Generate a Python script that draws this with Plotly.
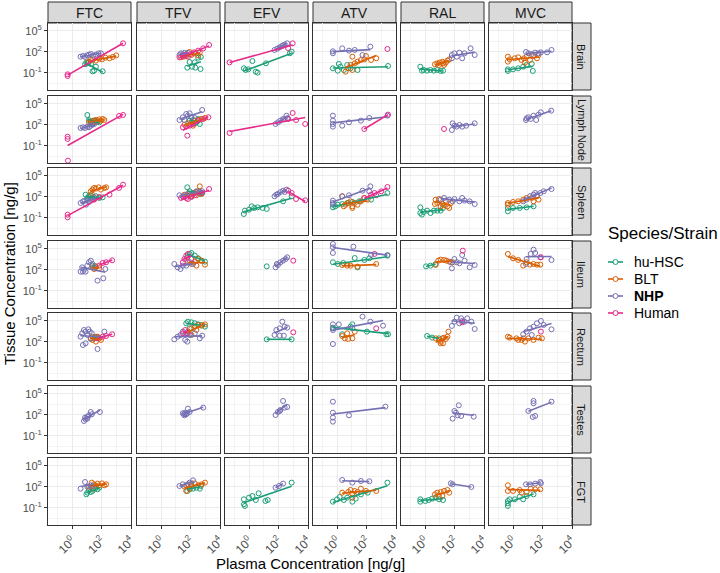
import numpy as np
import plotly.graph_objects as go

DRUGS = ["FTC", "TFV", "EFV", "ATV", "RAL", "MVC"]
TISSUES = ["Brain", "Lymph Node", "Spleen", "Ileum", "Rectum", "Testes", "FGT"]
GROUPS = ["hu-HSC", "BLT", "NHP", "Human"]
COLORS = {"hu-HSC": "#1B9E77", "BLT": "#D95F02", "NHP": "#7570B3", "Human": "#E7298A"}
X_TICKS = [1, 100, 10000]
X_TICK_TEXT = ["10<sup>0</sup>", "10<sup>2</sup>", "10<sup>4</sup>"]
Y_TICKS = [0.1, 100, 100000]
Y_TICK_TEXT = ["10<sup>-1</sup>", "10<sup>2</sup>", "10<sup>5</sup>"]

# values are log10(plasma ng/g), log10(tissue ng/g)
BRAIN = {
    "FTC": {
        "hu-HSC": ([0.88, 0.97, 1.06, 1.15, 1.29, 1.39, 1.50, 2.08, 1.62], [0.24, 0.48, 0.38, 0.57, 0.29, -0.76, -0.67, -0.76, -0.10]),
        "BLT": ([1.11, 1.27, 1.43, 1.62, 1.85, 2.03, 2.26, 2.54, 2.77, 3.0], [0.57, 0.86, 0.95, 0.76, 1.05, 0.95, 1.19, 1.10, 1.29, 1.52]),
        "NHP": ([0.58, 0.74, 0.88, 1.02, 1.15, 1.29, 1.43, 1.62, 1.80, 1.96], [1.33, 1.43, 1.29, 1.52, 1.62, 1.71, 1.48, 1.62, 1.81, 1.81]),
        "Human": ([-0.30, -0.30, 3.46], [-1.19, -1.43, 3.24]),
    },
    "TFV": {
        "hu-HSC": ([1.78, 2.10, 2.33, 2.68, 2.29, 2.52, 2.70, 1.94], [-0.24, -0.10, -0.24, -0.43, 0.52, 1.19, 1.29, 0.57]),
        "BLT": ([1.36, 1.55, 1.71, 1.94, 2.06, 2.29, 2.52, 2.63], [1.24, 1.33, 1.43, 2.0, 1.57, 1.81, 1.52, 1.90]),
        "NHP": ([1.25, 1.36, 1.48, 1.59, 1.71, 1.82], [1.57, 1.81, 1.67, 1.86, 1.62, 1.90]),
        "Human": ([1.25, 1.48, 1.64, 1.82, 2.01, 2.24, 2.52, 2.86, 3.26], [1.24, 1.43, 1.57, 1.33, 1.71, 1.95, 2.19, 2.52, 3.0]),
    },
    "EFV": {
        "hu-HSC": ([-0.35, -0.23, -0.05, 0.23, 0.46, 0.58, 1.15, 2.77, 2.89], [-0.33, -0.57, -0.48, 0.71, -0.81, -0.95, 0.38, 1.81, 2.05]),
        "NHP": ([1.73, 1.92, 2.08, 2.24, 2.42, 2.59, 2.31], [2.29, 2.48, 2.67, 2.86, 3.05, 3.24, 2.95]),
        "Human": ([-1.32, 2.65, 2.96], [0.52, 2.55, 3.24]),
    },
    "ATV": {
        "hu-HSC": ([-0.28, 0.05, 0.23, 0.46, 0.69, 0.92, 1.39, 3.46, 0.12], [-0.33, -0.67, -0.10, -0.57, 0.14, -0.33, -0.57, 0.0, 0.29]),
        "BLT": ([0.58, 0.76, 0.92, 1.04, 1.20, 1.39, 1.62, 1.85, 1.96, 2.31, 2.66, 1.04], [-0.81, -0.33, 0.14, 1.33, 0.38, 0.62, 0.86, 0.95, 1.43, 0.86, 1.10, -0.57]),
        "NHP": ([-0.28, -0.28, 0.35, 0.81, 1.73, 2.26, 1.20], [2.10, 1.81, 2.52, 2.19, 1.57, 2.76, 2.29]),
        "Human": ([3.42], [2.43]),
    },
    "RAL": {
        "hu-HSC": ([-0.32, -0.09, 0.14, 0.37, 0.60, 0.83, 1.06, 1.22, -0.21], [-0.10, -0.57, -0.67, -0.57, -0.67, -0.57, -0.71, -0.67, -0.67]),
        "BLT": ([0.67, 0.83, 0.99, 1.18, 1.29, 1.41, 1.52, 1.64, 1.22, 0.95], [0.24, 0.38, 0.48, 0.62, 0.14, 0.48, 0.76, 0.95, 0.38, 0.14]),
        "NHP": ([1.82, 1.99, 2.15, 2.33, 2.52, 2.68, 3.09, 3.37, 1.82], [1.57, 1.81, 1.33, 1.90, 1.10, 1.81, 2.52, 1.57, 1.10]),
    },
    "MVC": {
        "hu-HSC": ([-0.35, -0.35, 0.0, 0.35, 0.69, 0.92, 1.27, 1.34], [-0.71, -0.48, -0.48, -0.33, -0.10, 0.14, 0.29, -0.71]),
        "BLT": ([-0.35, -0.35, -0.23, 0.12, 0.35, 0.58, 0.74, 0.92, 1.15, 1.39, 1.62, 1.73, 0.81], [1.33, 0.62, 0.95, 1.10, 1.24, 0.86, 1.10, 1.33, 0.86, 1.43, 1.10, 1.57, 0.48]),
        "NHP": ([0.88, 1.04, 1.27, 1.50, 1.73, 1.89, 2.61, 2.31], [2.0, 1.81, 1.71, 1.90, 1.81, 1.95, 2.29, 1.95]),
    },
}

LYMPH_NODE = {
    "FTC": {
        "hu-HSC": ([1.04, 1.15, 1.27, 1.39, 1.50, 1.62, 1.73, 1.85], [3.43, 2.71, 2.38, 2.14, 2.62, 2.62, 2.48, 2.38]),
        "BLT": ([1.27, 1.43, 1.62, 1.73, 1.85, 1.96, 2.08, 2.19, 1.15, 1.50], [2.48, 2.62, 2.71, 2.52, 2.81, 2.62, 2.86, 2.71, 2.38, 2.38]),
        "NHP": ([0.58, 0.74, 0.88, 1.04, 1.15, 1.27, 1.39, 1.50], [1.57, 1.67, 1.57, 1.76, 1.67, 1.90, 2.05, 2.14]),
        "Human": ([-0.30, -0.30, -0.28, 3.19, 3.46], [0.33, 0.0, -3.10, 3.29, 3.43]),
    },
    "TFV": {
        "hu-HSC": ([1.94, 2.17, 2.40, 2.63, 2.29, 2.52], [2.62, 2.71, 2.38, 2.14, 2.24, 2.86]),
        "BLT": ([1.59, 1.82, 2.06, 2.29, 2.52, 2.75, 2.98, 2.17], [2.05, 2.24, 2.38, 2.62, 2.71, 2.86, 3.0, 1.90]),
        "NHP": ([1.25, 1.48, 1.71, 1.82, 1.94, 2.06, 2.79, 2.29, 1.59], [2.71, 3.10, 3.57, 3.33, 3.67, 3.10, 4.14, 3.00, 2.71]),
        "Human": ([1.48, 1.71, 1.94, 2.17, 2.52, 2.86, 3.21, 1.78], [1.67, 1.76, 1.90, 2.14, 2.62, 2.86, 3.10, 0.48]),
    },
    "EFV": {
        "NHP": ([1.80, 1.96, 2.13, 2.31, 2.54, 2.61, 2.42], [2.14, 2.38, 2.62, 2.86, 3.33, 3.0, 2.81]),
        "Human": ([-1.32, 2.96, 3.81, 3.19, 2.66], [0.86, 3.71, 2.14, 2.71, 2.86]),
    },
    "ATV": {
        "NHP": ([-0.28, -0.28, -0.28, -0.28, 0.35, 0.81, 1.62, 2.19, 3.42], [3.33, 2.62, 2.14, 1.76, 1.90, 2.38, 2.62, 3.0, 3.33]),
        "Human": ([1.85, 3.46], [1.43, 3.48]),
    },
    "RAL": {
        "NHP": ([1.87, 1.82, 1.99, 2.15, 2.33, 2.52, 2.79, 3.37], [2.24, 1.29, 1.90, 1.76, 2.0, 1.76, 1.90, 2.24]),
        "Human": ([1.29], [1.43]),
    },
    "MVC": {
        "NHP": ([0.88, 1.04, 1.20, 1.39, 1.57, 1.73, 1.89, 2.59, 0.92], [2.71, 3.10, 2.86, 3.33, 2.71, 3.48, 3.81, 4.05, 2.95]),
    },
}

SPLEEN = {
    "FTC": {
        "hu-HSC": ([0.92, 1.04, 1.15, 1.27, 1.39, 1.62, 1.85, 2.08, 1.11], [2.33, 1.86, 2.10, 2.24, 1.95, 2.10, 1.86, 1.95, 1.62]),
        "BLT": ([1.27, 1.39, 1.50, 1.62, 1.80, 1.96, 2.19, 2.31, 1.34], [2.81, 3.05, 3.29, 3.19, 3.38, 3.05, 3.29, 3.38, 2.43]),
        "NHP": ([0.58, 0.74, 0.88, 1.04, 1.15, 1.34, 1.50, 0.95], [1.14, 1.38, 1.48, 1.62, 1.29, 1.76, 1.95, 0.90]),
        "Human": ([-0.30, -0.30, 1.50, 1.85, 2.54, 3.19, 3.46], [-0.52, -0.90, 1.62, 2.0, 2.33, 3.29, 3.76]),
    },
    "TFV": {
        "hu-HSC": ([1.78, 1.94, 2.17, 2.40, 2.63, 2.79, 2.06], [3.38, 2.81, 2.57, 2.71, 2.43, 2.57, 2.10]),
        "BLT": ([1.59, 1.82, 2.06, 2.29, 2.52, 2.63, 2.75, 2.40], [2.33, 2.43, 2.19, 2.57, 2.81, 3.52, 2.43, 2.24]),
        "NHP": ([1.25, 1.48, 1.71, 1.94, 2.17, 2.40, 2.63, 2.79], [2.24, 2.10, 2.33, 2.43, 2.57, 2.81, 2.71, 2.81]),
        "Human": ([1.36, 1.59, 1.82, 2.06, 2.29, 2.75, 3.26, 1.71], [1.86, 2.0, 1.71, 2.0, 2.24, 2.57, 3.14, 1.86]),
    },
    "EFV": {
        "hu-HSC": ([-0.35, -0.28, 0.0, 0.18, 0.35, 0.58, 0.92, 1.20, 2.31, 2.89], [-0.43, 0.05, 0.19, 0.67, 0.43, 0.52, 0.43, 0.29, 1.38, 2.10]),
        "NHP": ([1.73, 1.96, 2.13, 2.31, 2.54, 2.42, 1.85], [2.10, 2.43, 2.71, 2.90, 3.05, 2.71, 2.33]),
        "Human": ([2.66, 3.19, 3.81, 2.89], [2.90, 1.71, 1.52, 2.57]),
    },
    "ATV": {
        "hu-HSC": ([-0.28, -0.12, 0.05, 0.35, 0.69, 1.04, 1.50, 2.31, 3.42], [0.52, 0.67, 0.90, 1.0, 1.14, 1.29, 1.38, 1.62, 2.57]),
        "BLT": ([0.35, 0.58, 0.76, 0.92, 1.04, 1.20, 1.39, 1.62, 1.85, 2.08, 1.04, 0.46], [2.10, 0.90, 1.14, 1.38, 0.67, 1.14, 0.90, 1.38, 1.86, 1.62, 0.43, 0.67]),
        "NHP": ([-0.28, -0.28, 0.35, 0.81, 1.73, 2.26, 2.19, -0.28], [1.48, 0.90, 2.10, 2.24, 2.90, 3.52, 2.81, 1.14]),
        "Human": ([1.85, 2.31, 2.66, 3.0, 3.42, 2.54], [1.86, 2.33, 2.24, 2.81, 3.43, 2.57]),
    },
    "RAL": {
        "hu-HSC": ([-0.32, -0.32, -0.21, -0.09, 0.14, 0.37, 0.60, 0.83, 1.06, 1.22], [0.52, -0.29, -0.52, -0.14, 0.05, -0.29, 0.05, 0.05, 0.05, 0.43]),
        "BLT": ([0.67, 0.72, 0.95, 1.18, 1.29, 1.41, 1.52, 1.64, 1.06, 0.83, 1.76], [1.0, 1.62, 1.71, 1.0, 0.81, 1.48, 0.67, 0.43, 0.67, 1.14, 1.14]),
        "NHP": ([1.06, 1.29, 1.64, 1.99, 2.33, 2.68, 3.03, 3.37, 2.52, 1.87], [1.62, 1.86, 1.62, 1.71, 1.38, 1.48, 1.38, 1.0, 1.86, 1.38]),
    },
    "MVC": {
        "hu-HSC": ([-0.35, -0.35, 0.0, 0.46, 0.92, 1.39], [-0.05, 0.43, 0.43, 0.43, 0.52, 0.67]),
        "BLT": ([-0.35, -0.35, 0.0, 0.35, 0.69, 0.92, 1.27, 1.62, 1.73, 1.39], [1.14, 0.90, 1.29, 1.38, 1.62, 1.86, 1.86, 2.10, 1.62, 1.38]),
        "NHP": ([0.69, 0.92, 1.15, 1.39, 1.62, 1.85, 2.08, 2.61, 1.50], [1.38, 1.62, 2.10, 2.33, 2.24, 2.57, 2.81, 3.14, 2.57]),
    },
}

ILEUM = {
    "FTC": {
        "hu-HSC": ([1.39, 1.57], [2.62, 2.52]),
        "BLT": ([1.39, 1.50, 1.62, 1.85], [2.38, 2.14, 2.52, 2.24]),
        "NHP": ([0.58, 0.69, 0.81, 0.92, 1.04, 1.15, 1.27, 1.39, 1.50, 1.73, 2.12, 2.26, 0.74], [1.76, 2.38, 2.05, 1.76, 2.62, 3.10, 3.33, 2.86, 2.38, 0.48, 0.81, 2.14, 1.76]),
        "Human": ([1.85, 2.08, 2.31, 2.72], [2.62, 3.0, 3.10, 3.38]),
    },
    "TFV": {
        "hu-HSC": ([1.78, 1.94, 2.06, 2.29, 2.52, 2.75, 2.98], [3.81, 4.29, 4.43, 4.05, 3.67, 3.33, 3.19]),
        "BLT": ([1.82, 2.06, 2.29, 2.52, 2.75, 2.98, 2.40], [3.10, 2.86, 3.19, 3.57, 3.33, 2.76, 2.62]),
        "NHP": ([0.90, 1.13, 1.32, 1.48, 1.71, 1.94, 2.17], [2.86, 2.38, 2.14, 2.62, 2.62, 3.10, 2.86]),
        "Human": ([1.48, 1.59, 1.71, 1.82, 2.06], [3.10, 3.57, 4.05, 4.29, 3.57]),
    },
    "EFV": {
        "hu-HSC": ([1.20], [2.52]),
        "NHP": ([1.80, 1.96, 2.13, 2.31, 2.49, 2.59, 1.89], [2.38, 2.71, 3.10, 3.33, 3.57, 3.81, 2.86]),
        "Human": ([3.0], [3.33]),
    },
    "ATV": {
        "hu-HSC": ([-0.28, 0.05, 0.42, 1.20, 1.39, 1.85, 3.42, 2.19], [3.10, 2.86, 3.0, 3.71, 2.38, 3.43, 4.05, 3.67]),
        "BLT": ([0.35, 0.69, 0.92, 1.39, 2.66], [2.71, 2.62, 2.62, 2.48, 2.86]),
        "NHP": ([-0.28, -0.28, -0.28, 1.11, 2.31, 3.42], [5.71, 5.24, 4.43, 5.33, 4.14, 4.14]),
        "Human": ([2.54], [4.29]),
    },
    "RAL": {
        "hu-HSC": ([0.07, 0.37, 0.72], [2.52, 2.62, 2.86]),
        "BLT": ([0.72, 0.90, 1.06, 1.29, 1.45, 1.64, 1.87], [2.71, 3.33, 3.48, 3.43, 3.33, 3.19, 3.10]),
        "NHP": ([1.76, 1.99, 2.15, 2.33, 2.52, 2.68, 3.03, 3.37, 1.82], [3.10, 3.57, 3.10, 2.95, 4.14, 3.33, 2.38, 2.71, 2.24]),
        "Human": ([2.56], [4.76]),
    },
    "MVC": {
        "BLT": ([-0.35, 0.0, 0.35, 0.69, 0.92, 1.15, 1.39, 1.62, 1.85], [4.29, 3.67, 3.43, 2.62, 3.10, 2.76, 2.86, 2.76, 2.76]),
        "NHP": ([0.92, 1.20, 1.39, 1.50, 1.85, 2.61, 0.88], [3.57, 4.29, 4.90, 4.43, 3.81, 3.43, 2.86]),
        "Human": ([1.89], [3.81]),
    },
}

RECTUM = {
    "FTC": {
        "hu-HSC": ([1.50, 1.62], [2.52, 2.76]),
        "BLT": ([1.27, 1.39, 1.57, 1.73, 1.85, 1.96, 1.62, 1.39], [2.52, 2.76, 2.62, 2.76, 2.52, 2.29, 2.05, 2.29]),
        "NHP": ([0.58, 0.69, 0.81, 0.92, 1.04, 1.11, 1.20, 1.34, 0.74, 0.92, 1.27, 2.19, 1.73], [2.76, 3.24, 3.71, 3.48, 3.0, 3.81, 3.48, 3.24, 1.57, 1.81, 2.43, 3.48, 1.0]),
        "Human": ([1.73, 2.08, 2.31, 2.72], [2.52, 2.76, 2.86, 3.10]),
    },
    "TFV": {
        "hu-HSC": ([1.71, 1.82, 2.06, 2.29, 2.52, 2.75, 2.98, 1.94], [4.67, 4.90, 4.81, 4.67, 4.52, 4.43, 4.19, 3.95]),
        "BLT": ([1.82, 2.06, 2.29, 2.52, 2.75, 2.98, 2.06, 2.40], [3.48, 3.95, 4.19, 4.43, 4.33, 4.52, 3.0, 3.71]),
        "NHP": ([0.90, 1.13, 1.32, 1.48, 1.71, 1.94, 2.29, 2.63, 2.79, 1.64, 1.78], [2.38, 2.76, 3.0, 3.48, 3.24, 3.0, 3.24, 2.52, 2.90, 2.29, 2.05]),
        "Human": ([1.48, 1.64, 1.82], [3.24, 3.71, 3.24]),
    },
    "EFV": {
        "hu-HSC": ([1.20, 2.89], [2.38, 2.38]),
        "NHP": ([1.73, 1.85, 2.08, 2.26, 2.42, 2.59, 2.08, 2.36], [3.0, 3.71, 3.95, 4.90, 4.19, 4.05, 2.90, 2.90]),
        "Human": ([3.0], [3.38]),
    },
    "ATV": {
        "hu-HSC": ([-0.28, 0.35, 0.92, 1.04, 3.35, 3.46, 2.03], [4.05, 3.10, 4.19, 4.52, 3.10, 3.10, 3.48]),
        "BLT": ([0.35, 0.53, 0.76, 1.04, 1.20, 0.69], [2.86, 2.52, 2.43, 2.52, 3.48, 3.24]),
        "NHP": ([-0.28, -0.28, -0.28, 0.12, 1.04, 1.73, 2.26, 3.12, -0.28], [4.52, 3.95, 1.71, 4.52, 3.95, 5.62, 4.90, 4.33, 3.71]),
        "Human": ([2.66], [3.95]),
    },
    "RAL": {
        "hu-HSC": ([0.14, 0.48, 0.95], [2.86, 2.62, 2.52]),
        "BLT": ([0.95, 1.06, 1.18, 1.29, 1.41, 1.52, 1.06, 1.22, 1.59, 0.72], [2.29, 2.05, 2.52, 2.62, 2.43, 2.76, 1.81, 1.81, 3.48, 2.52]),
        "NHP": ([1.82, 1.99, 2.15, 2.33, 2.52, 2.68, 2.86, 3.14, 3.37, 2.45], [4.29, 4.90, 5.48, 4.67, 5.0, 4.90, 5.38, 4.90, 3.86, 5.38]),
        "Human": ([2.52], [4.81]),
    },
    "MVC": {
        "BLT": ([-0.35, -0.23, 0.23, 0.58, 0.81, 1.04, 1.39, 1.73, 1.96, 0.69, 0.35], [2.76, 2.62, 2.52, 2.29, 2.05, 2.52, 2.29, 2.62, 2.52, 2.52, 2.29]),
        "NHP": ([0.69, 0.92, 1.15, 1.39, 1.62, 1.89, 2.61, 1.27, 2.08], [3.10, 3.48, 3.95, 4.19, 4.67, 5.0, 3.81, 3.0, 4.43]),
        "Human": ([1.89], [3.48]),
    },
}

TESTES = {
    "FTC": {"NHP": ([0.81, 0.92, 1.04, 1.15, 1.27, 1.34, 1.89, 1.04, 0.88], [1.14, 1.38, 1.76, 1.95, 2.43, 2.10, 2.43, 1.48, 1.62])},
    "TFV": {"NHP": ([1.48, 1.55, 1.64, 1.71, 1.82, 1.78, 1.94, 2.86, 1.59], [2.24, 2.10, 2.33, 2.10, 2.90, 2.24, 2.43, 3.05, 1.95])},
    "EFV": {"NHP": ([1.80, 1.96, 2.13, 2.31, 2.42, 2.59, 2.08], [2.0, 2.43, 2.71, 4.0, 3.05, 3.14, 2.57])},
    "ATV": {"NHP": ([-0.28, -0.28, -0.28, -0.28, 0.81, 3.28], [3.90, 2.33, 1.62, 1.05, 1.95, 3.19])},
    "RAL": {"NHP": ([1.99, 2.29, 1.87, 2.22, 2.45, 3.30, 2.10], [2.57, 3.38, 1.48, 1.95, 1.86, 1.76, 2.33])},
    "MVC": {"NHP": ([1.04, 1.39, 1.39, 1.50, 1.34, 2.61], [2.57, 4.0, 3.67, 1.86, 1.71, 3.90])},
}

FGT = {
    "FTC": {
        "hu-HSC": ([0.97, 1.04, 1.15, 1.39, 1.57, 1.73, 1.85, 1.27], [0.95, 1.19, 1.57, 1.43, 1.76, 1.67, 1.90, 1.29]),
        "BLT": ([1.15, 1.34, 1.50, 1.62, 1.73, 1.85, 2.03, 2.19, 2.31, 1.39], [2.05, 2.62, 2.38, 2.14, 2.48, 2.24, 2.52, 2.24, 2.38, 1.76]),
        "NHP": ([0.58, 0.88, 1.04, 1.27, 1.39], [1.76, 2.71, 2.05, 2.24, 2.14]),
    },
    "TFV": {
        "hu-HSC": ([1.78, 1.94, 2.17, 2.40, 2.63, 2.70, 2.06], [1.43, 1.67, 1.76, 1.90, 1.76, 2.14, 2.38]),
        "BLT": ([1.59, 1.82, 1.94, 2.06, 2.29, 2.52, 2.75, 2.98, 1.71], [2.05, 2.38, 1.76, 2.14, 2.52, 2.24, 2.38, 2.62, 1.43]),
        "NHP": ([1.25, 1.48, 1.71, 1.94, 2.17], [2.14, 2.38, 2.24, 2.62, 2.95]),
    },
    "EFV": {
        "hu-HSC": ([-0.35, -0.35, -0.28, 0.0, 0.23, 0.46, 0.65, 1.11, 1.27, 2.89], [0.24, -0.48, -0.71, 0.48, 0.71, 0.14, 1.10, 0.0, 0.14, 2.62]),
        "NHP": ([1.80, 2.03, 2.31], [1.90, 2.14, 2.48]),
    },
    "ATV": {
        "hu-HSC": ([-0.28, 0.0, 0.18, 0.46, 0.69, 1.04, 1.27, 1.62, 2.08, 3.42], [-0.10, 0.24, 0.57, 0.14, 0.48, -0.10, 0.33, 0.95, 1.19, 2.62]),
        "BLT": ([0.35, 0.76, 0.92, 1.04, 1.20, 1.39, 1.62, 1.96, 2.66, 1.04], [1.19, 1.29, 1.57, 1.05, 1.43, 1.29, 1.76, 1.43, 1.43, 0.48]),
        "NHP": ([0.35, 1.04, 1.62, 2.19], [3.0, 2.62, 2.86, 2.81]),
    },
    "RAL": {
        "hu-HSC": ([-0.32, -0.32, 0.02, 0.25, 0.48, 0.72, 0.95, 1.22], [0.24, -0.10, 0.0, 0.14, 0.33, 0.48, 0.24, 0.14]),
        "BLT": ([0.67, 0.83, 1.06, 1.29, 1.52, 1.64, 1.18, 0.95], [0.95, 1.19, 1.29, 1.43, 1.57, 1.19, 0.71, 0.62]),
        "NHP": ([1.75, 1.87, 3.14], [2.52, 2.38, 2.0]),
    },
    "MVC": {
        "hu-HSC": ([-0.35, -0.35, -0.35, -0.23, 0.12, 0.46, 0.69, 0.92, 1.39], [0.0, -0.33, -0.71, 0.24, 0.24, 0.62, 0.24, 0.71, 0.95]),
        "BLT": ([-0.35, -0.35, 0.0, 0.46, 0.92, 1.20, 1.50, 1.85, 0.58], [2.24, 1.43, 1.43, 1.57, 1.29, 1.76, 1.67, 1.67, 1.19]),
        "NHP": ([0.88, 1.15, 1.50, 1.85, 1.89], [2.38, 2.38, 2.48, 2.71, 2.52]),
    },
}

TISSUE_DATA = [BRAIN, LYMPH_NODE, SPLEEN, ILEUM, RECTUM, TESTES, FGT]

# ---------------- layout geometry (pixels) ----------------
W, H = 720, 573
COL_L = [48, 137, 225, 313, 401, 489]
PW = 83
ROW_T = [23, 96, 168, 241, 313, 386, 458]
PH = 67
STRIP_TOP = 2
STRIP_RX = 591
FONT = "Liberation Sans, Arial, sans-serif"
XR = [-1.63, 4.0]
YR = [-3.43, 6.14]


def px(x):
    return x / W


def py(y):
    return 1 - y / H


fig = go.Figure()
layout = {}

for r, tdata in enumerate(TISSUE_DATA):
    for c, drug in enumerate(DRUGS):
        k = r * 6 + c + 1
        sfx = "" if k == 1 else str(k)
        L, T = COL_L[c], ROW_T[r]
        layout["xaxis" + sfx] = dict(
            type="log", range=XR, domain=[px(L), px(L + PW)], anchor="y" + sfx,
            tickvals=X_TICKS, ticktext=X_TICK_TEXT, showticklabels=(r == 6),
            ticks="outside" if r == 6 else "", ticklen=3, tickcolor="#333333",
            tickangle=-45, tickfont=dict(family=FONT, size=12, color="#4d4d4d"),
            showgrid=True, gridcolor="#ebebeb", gridwidth=1,
            minor=dict(tickvals=[0.1, 10, 1000], showgrid=True, gridcolor="#f3f3f3", gridwidth=0.6, ticks=""),
            showline=True, mirror=True, linecolor="#333333", linewidth=1,
            zeroline=False, fixedrange=True, automargin=False,
        )
        layout["yaxis" + sfx] = dict(
            type="log", range=YR, domain=[py(T + PH), py(T)], anchor="x" + sfx,
            tickvals=Y_TICKS, ticktext=Y_TICK_TEXT, showticklabels=(c == 0),
            ticks="outside" if c == 0 else "", ticklen=3, tickcolor="#333333",
            tickfont=dict(family=FONT, size=11, color="#4d4d4d"),
            showgrid=True, gridcolor="#ebebeb", gridwidth=1,
            minor=dict(tickvals=[10 ** -2.5, 10 ** 0.5, 10 ** 3.5], showgrid=True, gridcolor="#f3f3f3", gridwidth=0.6, ticks=""),
            showline=True, mirror=True, linecolor="#333333", linewidth=1,
            zeroline=False, fixedrange=True, automargin=False,
        )
        panel = tdata.get(drug, {})
        # points layer
        for g in GROUPS:
            if g not in panel:
                continue
            xs, ys = panel[g]
            fig.add_trace(go.Scatter(
                x=10 ** np.array(xs), y=10 ** np.array(ys), mode="markers",
                marker=dict(symbol="circle-open", size=5, color=COLORS[g], line=dict(width=1)),
                xaxis="x" + sfx, yaxis="y" + sfx, showlegend=False, hoverinfo="skip",
            ))
        # linear fit layer (log-log)
        for g in GROUPS:
            if g not in panel:
                continue
            xs, ys = np.array(panel[g][0]), np.array(panel[g][1])
            if len(xs) < 2 or np.ptp(xs) == 0:
                continue
            b, a = np.polyfit(xs, ys, 1)
            xl = np.array([xs.min(), xs.max()])
            yl = a + b * xl
            fig.add_trace(go.Scatter(
                x=10 ** xl, y=10 ** yl, mode="lines",
                line=dict(color=COLORS[g], width=1.6),
                xaxis="x" + sfx, yaxis="y" + sfx, showlegend=False, hoverinfo="skip",
            ))

shapes = []
annotations = []
# column strips
for c, drug in enumerate(DRUGS):
    L = COL_L[c]
    shapes.append(dict(type="rect", xref="paper", yref="paper", x0=px(L), x1=px(L + PW),
                       y0=py(ROW_T[0]), y1=py(STRIP_TOP), fillcolor="#d9d9d9",
                       line=dict(color="#333333", width=1), layer="below"))
    annotations.append(dict(text=drug, xref="paper", yref="paper", x=px(L + PW / 2),
                            y=py((STRIP_TOP + ROW_T[0]) / 2), showarrow=False,
                            xanchor="center", yanchor="middle",
                            font=dict(family=FONT, size=14, color="#1a1a1a")))
# row strips
SX0 = COL_L[-1] + PW
for r, tissue in enumerate(TISSUES):
    T = ROW_T[r]
    shapes.append(dict(type="rect", xref="paper", yref="paper", x0=px(SX0), x1=px(STRIP_RX),
                       y0=py(T + PH), y1=py(T), fillcolor="#d9d9d9",
                       line=dict(color="#333333", width=1), layer="below"))
    annotations.append(dict(text=tissue, xref="paper", yref="paper", x=px((SX0 + STRIP_RX) / 2),
                            y=py(T + PH / 2), showarrow=False, textangle=90,
                            xanchor="center", yanchor="middle",
                            font=dict(family=FONT, size=11, color="#1a1a1a")))

# axis titles
annotations.append(dict(text="Plasma Concentration [ng/g]", xref="paper", yref="paper",
                        x=px((COL_L[0] + COL_L[-1] + PW) / 2), y=py(563), showarrow=False,
                        xanchor="center", yanchor="middle",
                        font=dict(family=FONT, size=15, color="#000000")))
annotations.append(dict(text="Tissue Concentration [ng/g]", xref="paper", yref="paper",
                        x=px(9), y=py((ROW_T[0] + ROW_T[-1] + PH) / 2), showarrow=False,
                        textangle=-90, xanchor="center", yanchor="middle",
                        font=dict(family=FONT, size=15, color="#000000")))

# legend (drawn manually)
LEG_X = 607
annotations.append(dict(text="Species/Strain", xref="paper", yref="paper", x=px(LEG_X - 1),
                        y=py(233), showarrow=False, xanchor="left", yanchor="middle",
                        font=dict(family=FONT, size=17, color="#000000")))
LEG_Y = [262, 279, 296, 313]
for g, yy in zip(GROUPS, LEG_Y):
    col = COLORS[g]
    shapes.append(dict(type="line", xref="paper", yref="paper", x0=px(LEG_X + 1), x1=px(LEG_X + 16),
                       y0=py(yy), y1=py(yy), line=dict(color=col, width=1.6)))
    shapes.append(dict(type="circle", xref="paper", yref="paper", x0=px(LEG_X + 6), x1=px(LEG_X + 11),
                       y0=py(yy + 2.5), y1=py(yy - 2.5), line=dict(color=col, width=1),
                       fillcolor="white"))
    label = "<b>NHP</b>" if g == "NHP" else g
    annotations.append(dict(text=label, xref="paper", yref="paper", x=px(LEG_X + 25), y=py(yy),
                            showarrow=False, xanchor="left", yanchor="middle",
                            font=dict(family=FONT, size=14, color="#000000")))

fig.update_layout(
    **layout,
    width=W, height=H,
    margin=dict(l=0, r=0, t=0, b=0),
    paper_bgcolor="white", plot_bgcolor="white",
    showlegend=False,
    shapes=shapes, annotations=annotations,
    font=dict(family=FONT),
)

fig.write_html("out.html", config={"displayModeBar": False},
               post_script="document.body.style.margin='0';document.body.style.overflow='hidden';")
